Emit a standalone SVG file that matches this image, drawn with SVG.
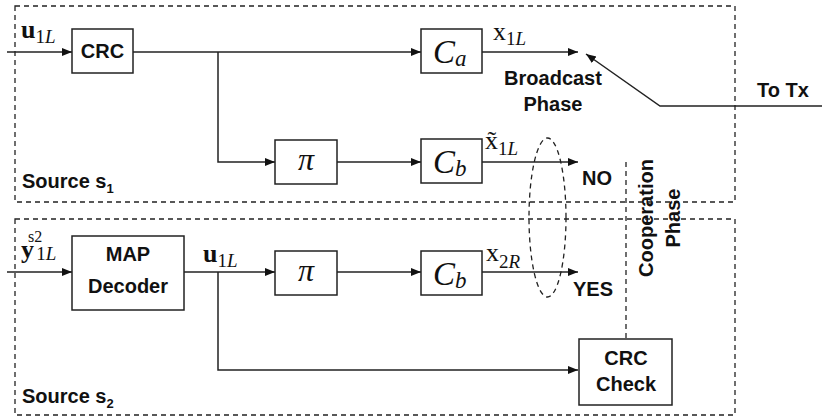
<svg xmlns="http://www.w3.org/2000/svg" width="822" height="416" viewBox="0 0 822 416">
<defs>
<marker id="arr" markerWidth="11" markerHeight="9" refX="10" refY="4" orient="auto" markerUnits="userSpaceOnUse">
<path d="M0,0 L10,4 L0,8 z" fill="#111"/>
</marker>
<style>
.box{fill:#fff;stroke:#222;stroke-width:1.5}
.dash{fill:none;stroke:#222;stroke-width:1.3;stroke-dasharray:5,4}
.wire{fill:none;stroke:#222;stroke-width:1.5}
.arrow{marker-end:url(#arr)}
.lbl{font-family:"Liberation Sans",Arial,sans-serif;font-weight:bold;font-size:20px;fill:#111}
.m{font-family:"Liberation Serif","DejaVu Serif",serif;fill:#111}
.mi{font-style:italic}
</style>
</defs>
<rect width="822" height="416" fill="#fff"/>

<g id="source1-region">
<rect class="dash" x="15" y="6" width="720" height="196"/>
<text class="lbl" x="22" y="188">Source s<tspan font-size="13" dy="5">1</tspan></text>
</g>
<g id="source2-region">
<rect class="dash" x="15" y="219" width="720" height="196"/>
<text class="lbl" x="22" y="403">Source s<tspan font-size="13" dy="5">2</tspan></text>
</g>

<g id="connectors">
<path class="wire arrow" d="M7,52 H72"/>
<path class="wire arrow" d="M133,52 H421"/>
<path class="wire arrow" d="M218,52 V162 H275"/>
<path class="wire arrow" d="M337,162 H421"/>
<path class="wire arrow" d="M482,52 H578"/>
<path class="wire arrow" d="M482,162 H578"/>
<path class="wire arrow" d="M832,106 H660 L586,54"/>
<path class="wire arrow" d="M7,272 H72"/>
<path class="wire arrow" d="M184,272 H275"/>
<path class="wire arrow" d="M218,272 V370 H578"/>
<path class="wire arrow" d="M337,272 H421"/>
<path class="wire arrow" d="M482,272 H578"/>
<path class="dash" d="M626,162 V339"/>
<ellipse class="dash" cx="547.5" cy="217.5" rx="18.5" ry="79.5"/>
</g>

<g id="labels">
<text class="m" x="21" y="38"><tspan font-weight="bold" font-size="26">u</tspan><tspan font-size="19" dy="5">1</tspan><tspan font-size="19" class="mi">L</tspan></text>
<text class="m" x="493" y="40"><tspan font-size="26">x</tspan><tspan font-size="19" dy="5">1</tspan><tspan font-size="19" class="mi">L</tspan></text>
<text class="m" x="485" y="149"><tspan font-size="26">x̃</tspan><tspan font-size="19" dy="6">1</tspan><tspan font-size="19" class="mi">L</tspan></text>
<text class="lbl" x="553" y="85" text-anchor="middle">Broadcast</text>
<text class="lbl" x="553" y="111" text-anchor="middle">Phase</text>
<text class="lbl" x="783" y="97" text-anchor="middle">To Tx</text>
<text class="lbl" x="597" y="185" text-anchor="middle">NO</text>
<text class="m" x="21" y="258"><tspan font-size="26" font-weight="bold">y</tspan><tspan font-size="16" dx="-6" dy="-16">s2</tspan><tspan font-size="19" dx="-6" dy="18">1</tspan><tspan font-size="19" class="mi">L</tspan></text>
<text class="m" x="203" y="262"><tspan font-weight="bold" font-size="26">u</tspan><tspan font-size="19" dy="5">1</tspan><tspan font-size="19" class="mi">L</tspan></text>
<text class="m" x="486" y="261"><tspan font-size="26">x</tspan><tspan font-size="19" dy="7">2</tspan><tspan font-size="19" class="mi">R</tspan></text>
<text class="lbl" x="593" y="296" text-anchor="middle">YES</text>
<text class="lbl" transform="translate(653,218) rotate(-90)" text-anchor="middle">Cooperation</text>
<text class="lbl" transform="translate(680,218) rotate(-90)" text-anchor="middle">Phase</text>
</g>

<g id="crc">
<rect class="box" x="72" y="29" width="61" height="44"/>
<text class="lbl" x="102.5" y="58" text-anchor="middle">CRC</text>
</g>
<g id="ca">
<rect class="box" x="421" y="29" width="61" height="44"/>
<text class="m mi" x="433" y="63" font-size="33">C<tspan font-size="23" dy="3">a</tspan></text>
</g>
<g id="pi1">
<rect class="box" x="275" y="140" width="62" height="44"/>
<text class="m mi" x="306" y="170" font-size="32" text-anchor="middle">π</text>
</g>
<g id="cb1">
<rect class="box" x="421" y="139" width="61" height="44"/>
<text class="m mi" x="433" y="173" font-size="33">C<tspan font-size="23" dy="3">b</tspan></text>
</g>
<g id="map">
<rect class="box" x="72" y="236" width="112" height="74"/>
<text class="lbl" x="128" y="261" text-anchor="middle">MAP</text>
<text class="lbl" x="128" y="293" text-anchor="middle">Decoder</text>
</g>
<g id="pi2">
<rect class="box" x="275" y="251" width="62" height="44"/>
<text class="m mi" x="306" y="281" font-size="32" text-anchor="middle">π</text>
</g>
<g id="cb2">
<rect class="box" x="421" y="251" width="61" height="44"/>
<text class="m mi" x="433" y="285" font-size="33">C<tspan font-size="23" dy="3">b</tspan></text>
</g>
<g id="crccheck">
<rect class="box" x="579" y="339" width="93" height="66"/>
<text class="lbl" x="626" y="365" text-anchor="middle">CRC</text>
<text class="lbl" x="626" y="391" text-anchor="middle">Check</text>
</g>
</svg>
